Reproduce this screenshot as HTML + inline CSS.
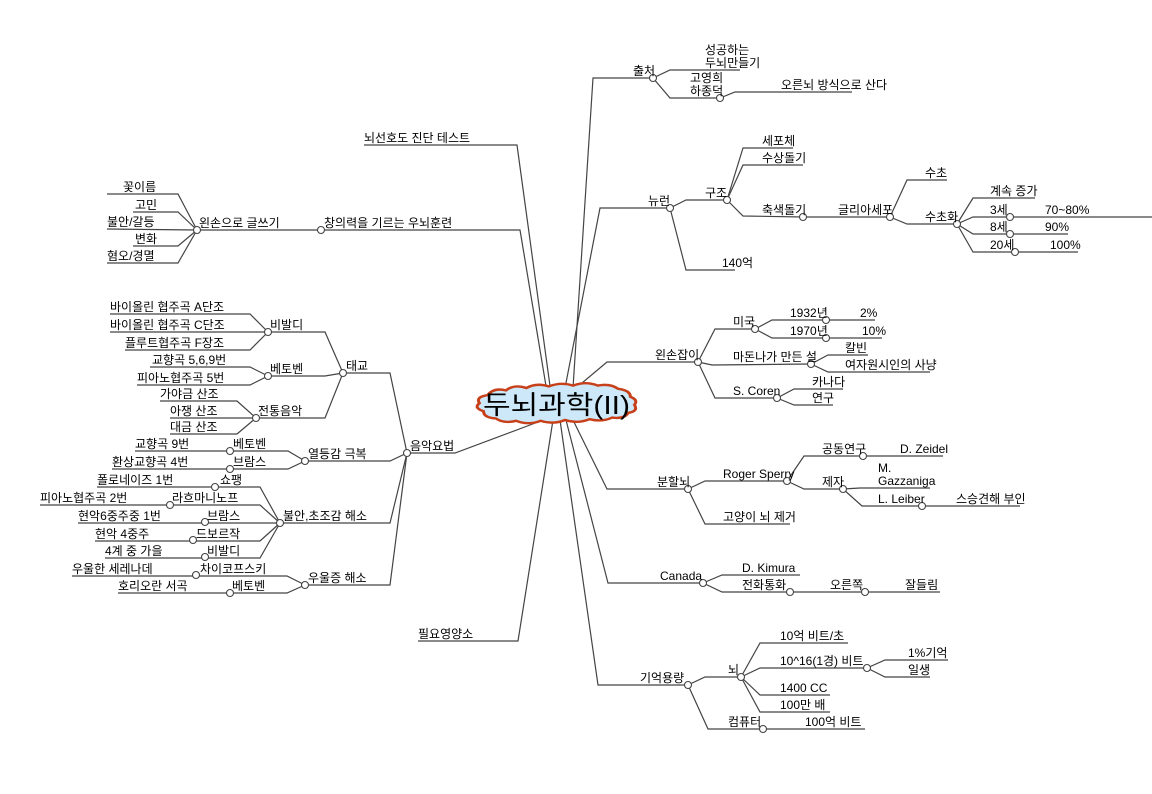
<!DOCTYPE html>
<html><head><meta charset="utf-8"><style>
html,body{margin:0;padding:0;background:#fff;}
svg{display:block;}
text{font-family:"Liberation Sans","Noto Sans CJK KR","NanumGothic",sans-serif;font-size:12px;fill:#000;}
</style></head><body>
<svg width="1152" height="794" viewBox="0 0 1152 794" xmlns="http://www.w3.org/2000/svg">
<g fill="none" stroke="#444" stroke-width="1.2">
<path d="M573 388 L593 78 L653 78"/>
<path d="M550 386 L517 145 L364 145"/>
<path d="M565 388 L600 208 L670 208"/>
<path d="M582 383 L607 362 L698 362"/>
<path d="M572 418 L607 489 L688 489"/>
<path d="M566 420 L608 583 L703 583"/>
<path d="M560 420 L598 685 L688 685"/>
<path d="M553 420 L518 641 L418 641"/>
<path d="M546 386 L520 230 L321 230"/>
<path d="M538 422 L455 453 L407 453"/>
<path d="M653 78 L670 70 L740 70"/>
<path d="M653 78 L670 98 L720 98 L735 92 L852 92"/>
<path d="M670 208 L686 200 L727 200"/>
<path d="M727 200 L743 148 L793 148"/>
<path d="M727 200 L743 165 L803 165"/>
<path d="M727 200 L743 216 L803 217 L890 217"/>
<path d="M890 217 L907 180 L947 180"/>
<path d="M890 217 L907 224 L957 224"/>
<path d="M957 224 L973 198 L1035 198"/>
<path d="M957 224 L973 217 L1152 217"/>
<path d="M957 224 L973 234 L1068 234"/>
<path d="M957 224 L973 252 L1078 252"/>
<path d="M670 208 L686 270 L735 270"/>
<path d="M698 362 L715 329 L755 329"/>
<path d="M755 329 L772 320 L875 320"/>
<path d="M755 329 L772 338 L882 338"/>
<path d="M698 362 L712 365 L811 364"/>
<path d="M811 364 L828 355 L868 355"/>
<path d="M811 364 L828 372 L930 372"/>
<path d="M698 362 L715 398 L777 398"/>
<path d="M777 398 L794 389 L843 389"/>
<path d="M777 398 L794 405 L833 405"/>
<path d="M688 489 L705 481 L787 481"/>
<path d="M787 481 L804 456 L943 456"/>
<path d="M787 481 L804 489 L843 489"/>
<path d="M843 489 L860 488 L930 488"/>
<path d="M843 489 L862 506 L1020 506"/>
<path d="M688 489 L705 524 L790 524"/>
<path d="M703 583 L722 575 L800 575"/>
<path d="M703 583 L722 592 L940 592"/>
<path d="M688 685 L705 677 L741 677"/>
<path d="M741 677 L760 643 L848 643"/>
<path d="M741 677 L760 668 L867 668"/>
<path d="M867 668 L885 660 L948 660"/>
<path d="M867 668 L885 677 L930 677"/>
<path d="M741 677 L760 695 L830 695"/>
<path d="M741 677 L760 712 L830 712"/>
<path d="M688 685 L708 729 L865 729"/>
<path d="M321 230 L197 230"/>
<path d="M197 230 L178 194 L107 194"/>
<path d="M197 230 L178 212 L133 212"/>
<path d="M197 230 L107 229"/>
<path d="M197 230 L178 246 L133 246"/>
<path d="M197 230 L178 263 L107 263"/>
<path d="M407 453 L390 373 L343 373"/>
<path d="M407 453 L390 461 L305 461"/>
<path d="M407 453 L390 523 L280 523"/>
<path d="M407 453 L390 585 L305 585"/>
<path d="M343 373 L325 332 L268 332"/>
<path d="M343 373 L325 376 L268 376"/>
<path d="M343 373 L325 418 L256 418"/>
<path d="M268 332 L250 314 L110 314"/>
<path d="M268 332 L110 332"/>
<path d="M268 332 L250 350 L125 350"/>
<path d="M268 376 L250 367 L150 367"/>
<path d="M268 376 L250 385 L137 385"/>
<path d="M256 418 L237 401 L160 401"/>
<path d="M256 418 L170 418"/>
<path d="M256 418 L237 434 L170 434"/>
<path d="M305 461 L288 451 L135 451"/>
<path d="M305 461 L288 469 L112 469"/>
<path d="M280 523 L260 487 L97 487"/>
<path d="M280 523 L260 505 L40 505"/>
<path d="M280 523 L78 523"/>
<path d="M280 523 L260 541 L95 541"/>
<path d="M280 523 L260 558 L105 558"/>
<path d="M305 585 L287 576 L72 576"/>
<path d="M305 585 L287 593 L118 593"/>
</g>
<g fill="#fff" stroke="#444" stroke-width="1.1">
<circle cx="653" cy="78" r="3.5"/><circle cx="720" cy="98" r="3.5"/>
<circle cx="670" cy="208" r="3.5"/><circle cx="727" cy="200" r="3.5"/><circle cx="803" cy="217" r="3.5"/>
<circle cx="890" cy="217" r="3.5"/><circle cx="957" cy="224" r="3.5"/>
<circle cx="1010" cy="217" r="3.5"/><circle cx="1010" cy="234" r="3.5"/><circle cx="1015" cy="252" r="3.5"/>
<circle cx="698" cy="362" r="3.5"/><circle cx="755" cy="329" r="3.5"/><circle cx="826" cy="320" r="3.5"/><circle cx="826" cy="338" r="3.5"/>
<circle cx="811" cy="364" r="3.5"/><circle cx="777" cy="398" r="3.5"/>
<circle cx="688" cy="489" r="3.5"/><circle cx="787" cy="481" r="3.5"/><circle cx="863" cy="456" r="3.5"/><circle cx="843" cy="489" r="3.5"/><circle cx="922" cy="506" r="3.5"/>
<circle cx="703" cy="583" r="3.5"/><circle cx="790" cy="592" r="3.5"/><circle cx="865" cy="592" r="3.5"/>
<circle cx="688" cy="685" r="3.5"/><circle cx="741" cy="677" r="3.5"/><circle cx="867" cy="668" r="3.5"/><circle cx="763" cy="729" r="3.5"/>
<circle cx="321" cy="230" r="3.5"/><circle cx="197" cy="230" r="3.5"/>
<circle cx="407" cy="453" r="3.5"/><circle cx="343" cy="373" r="3.5"/>
<circle cx="268" cy="332" r="3.5"/><circle cx="268" cy="376" r="3.5"/><circle cx="256" cy="418" r="3.5"/>
<circle cx="305" cy="461" r="3.5"/><circle cx="230" cy="451" r="3.5"/><circle cx="230" cy="469" r="3.5"/>
<circle cx="280" cy="523" r="3.5"/><circle cx="215" cy="487" r="3.5"/><circle cx="170" cy="505" r="3.5"/><circle cx="205" cy="522" r="3.5"/><circle cx="193" cy="540" r="3.5"/><circle cx="205" cy="557" r="3.5"/>
<circle cx="305" cy="585" r="3.5"/><circle cx="196" cy="575" r="3.5"/><circle cx="230" cy="593" r="3.5"/>
</g>
<g transform="translate(559,404) scale(1.02,0.8) translate(-556,-403)">
<path d="M486 392 q6 -10 18 -6 q8 -8 20 -3 q10 -7 22 -2 q12 -6 24 -1 q12 -6 24 0 q12 -3 20 4 q12 2 12 10 q8 4 4 10 q4 8 -6 10 q-4 8 -16 6 q-10 6 -22 2 q-12 6 -24 1 q-12 6 -24 1 q-12 6 -24 0 q-12 4 -20 -3 q-12 -1 -12 -9 q-10 -4 -4 -10 q-4 -8 8 -10 z" fill="#cde8f8" stroke="#c8401a" stroke-width="3"/>
</g>
<text x="483" y="414" textLength="147" lengthAdjust="spacingAndGlyphs" style="font-size:26px">두뇌과학(II)</text>
<g>
<text x="633" y="75">출처</text>
<text x="705" y="54">성공하는</text><text x="705" y="67">두뇌만들기</text>
<text x="690" y="82">고영희</text><text x="690" y="95">하종덕</text>
<text x="781" y="89">오른뇌 방식으로 산다</text>
<text x="364" y="142">뇌선호도 진단 테스트</text>
<text x="648" y="205">뉴런</text><text x="705" y="197">구조</text>
<text x="762" y="145">세포체</text><text x="762" y="162">수상돌기</text><text x="762" y="214">축색돌기</text>
<text x="838" y="214">글리아세포</text><text x="925" y="177">수초</text><text x="925" y="221">수초화</text>
<text x="990" y="195">계속 증가</text>
<text x="990" y="214">3세</text><text x="1045" y="214">70~80%</text>
<text x="990" y="231">8세</text><text x="1045" y="231">90%</text>
<text x="990" y="249">20세</text><text x="1050" y="249">100%</text>
<text x="722" y="267">140억</text>
<text x="655" y="359">왼손잡이</text><text x="733" y="326">미국</text>
<text x="790" y="317">1932년</text><text x="860" y="317">2%</text>
<text x="790" y="335">1970년</text><text x="862" y="335">10%</text>
<text x="733" y="361">마돈나가 만든 설</text><text x="845" y="352">칼빈</text><text x="845" y="369">여자원시인의 사냥</text>
<text x="733" y="395">S. Coren</text><text x="812" y="386">카나다</text><text x="812" y="402">연구</text>
<text x="657" y="486">분할뇌</text><text x="723" y="478">Roger Sperry</text>
<text x="822" y="453">공동연구</text><text x="900" y="453">D. Zeidel</text>
<text x="822" y="486">제자</text><text x="878" y="472">M.</text><text x="878" y="485">Gazzaniga</text>
<text x="878" y="503">L. Leiber</text><text x="956" y="503">스승견해 부인</text>
<text x="723" y="521">고양이 뇌 제거</text>
<text x="660" y="580">Canada</text><text x="742" y="572">D. Kimura</text>
<text x="742" y="589">전화통화</text><text x="830" y="589">오른쪽</text><text x="905" y="589">잘들림</text>
<text x="640" y="682">기억용량</text><text x="728" y="674">뇌</text>
<text x="780" y="640">10억 비트/초</text><text x="780" y="665">10^16(1경) 비트</text>
<text x="908" y="657">1%기억</text><text x="908" y="674">일생</text>
<text x="780" y="692">1400 CC</text><text x="780" y="709">100만 배</text>
<text x="728" y="726">컴퓨터</text><text x="805" y="726">100억 비트</text>
<text x="418" y="638">필요영양소</text>
<text x="324" y="227">창의력을 기르는 우뇌훈련</text><text x="199" y="227">왼손으로 글쓰기</text>
<text x="123" y="191">꽃이름</text><text x="135" y="209">고민</text><text x="107" y="226">불안/갈등</text><text x="135" y="243">변화</text><text x="107" y="260">혐오/경멸</text>
<text x="410" y="450">음악요법</text><text x="346" y="370">태교</text>
<text x="270" y="329">비발디</text><text x="110" y="311">바이올린 협주곡 A단조</text><text x="110" y="329">바이올린 협주곡 C단조</text><text x="125" y="347">플루트협주곡 F장조</text>
<text x="270" y="373">베토벤</text><text x="152" y="364">교향곡 5,6,9번</text><text x="137" y="382">피아노협주곡 5번</text>
<text x="258" y="415">전통음악</text><text x="160" y="398">가야금 산조</text><text x="170" y="415">아쟁 산조</text><text x="170" y="431">대금 산조</text>
<text x="308" y="458">열등감 극복</text><text x="135" y="448">교향곡 9번</text><text x="233" y="448">베토벤</text>
<text x="112" y="466">환상교향곡 4번</text><text x="233" y="466">브람스</text>
<text x="283" y="520">불안,초조감 해소</text>
<text x="97" y="484">폴로네이즈 1번</text><text x="220" y="484">쇼팽</text>
<text x="40" y="502">피아노협주곡 2번</text><text x="172" y="502">라흐마니노프</text>
<text x="78" y="520">현악6중주중 1번</text><text x="207" y="520">브람스</text>
<text x="95" y="538">현악 4중주</text><text x="196" y="538">드보르작</text>
<text x="105" y="555">4계 중 가을</text><text x="207" y="555">비발디</text>
<text x="308" y="582">우울증 해소</text>
<text x="72" y="573">우울한 세레나데</text><text x="200" y="573">차이코프스키</text>
<text x="118" y="590">호리오란 서곡</text><text x="232" y="590">베토벤</text>
</g>
</svg>
</body></html>
